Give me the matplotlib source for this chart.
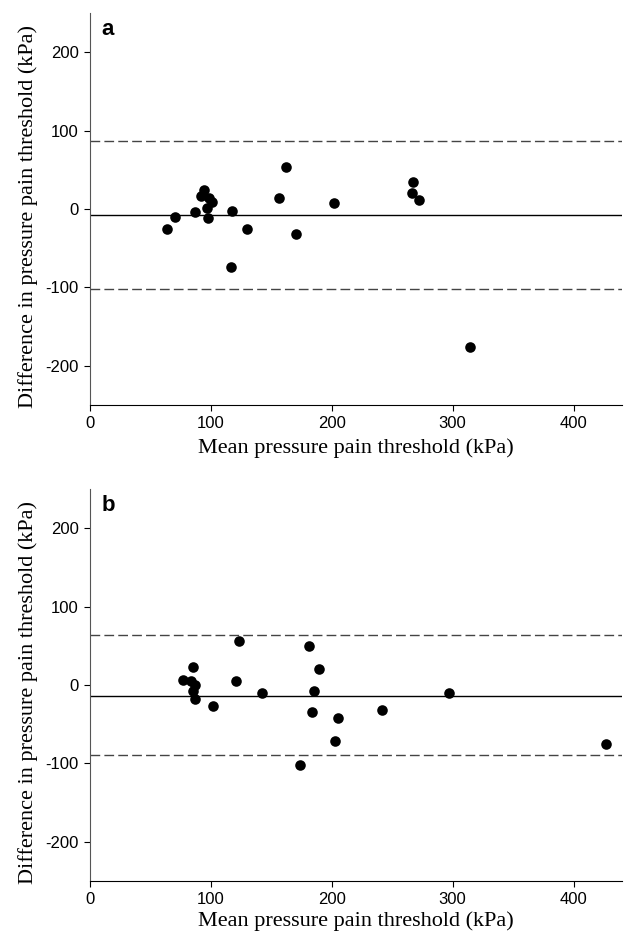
import numpy as np
import matplotlib
matplotlib.use('Agg')
from matplotlib import pyplot as plt

plt.rcParams['axes.unicode_minus'] = False

# panel a : mean vs difference
a_mean = [63.9, 70.0, 86.8, 91.7, 94.5, 98.6, 100.6, 96.4, 97.8, 117.6, 116.3,
          130.0, 156.2, 162.0, 170.8, 201.9, 267.2, 266.1, 271.9, 314.0]
a_diff = [-25.5, -9.8, -3.8, 16.1, 23.7, 13.5, 8.4, 1.3, -12.0, -2.2, -74.4,
          -25.5, 14.4, 53.5, -32.3, 7.2, 33.9, 20.4, 11.8, -176.3]
a_bias = -8.0
a_loa = [86.1, -102.2]

# panel b
b_mean = [77.1, 83.2, 85.4, 86.8, 85.4, 86.8, 101.4, 120.4, 123.1, 141.9,
          174.0, 181.0, 189.4, 185.1, 183.6, 205.0, 203.0, 241.6, 296.7, 427.0]
b_diff = [6.4, 5.5, 22.6, 0.0, -7.2, -18.3, -26.8, 5.5, 56.6, -10.2,
          -102.1, 49.8, 20.0, -7.7, -34.7, -42.1, -71.1, -31.5, -9.8, -75.0]
b_bias = -13.6
b_loa = [63.8, -89.8]

xticks = [0, 100, 200, 300, 400]
yticks = [-200, -100, 0, 100, 200]

serif = ['Liberation Serif', 'DejaVu Serif']
sans = ['Liberation Sans', 'DejaVu Sans']


def panel(ax, x, y, bias, loa, letter, xpad):
    ax.scatter(x, y, s=58, color='black', zorder=3, linewidths=0)
    ax.axhline(bias, color='black', lw=1.0)
    for v in loa:
        ax.axhline(v, color='#444444', lw=1.0, ls=(0, (7, 3)))
    ax.set_xlim(0, 440)
    ax.set_ylim(-250, 250)
    ax.set_xticks(xticks)
    ax.set_yticks(yticks)
    for s in ['top', 'right']:
        ax.spines[s].set_visible(False)
    ax.spines['left'].set_color('#555555')
    ax.spines['bottom'].set_color('black')
    ax.tick_params(direction='out', length=4, width=0.8, labelsize=12, colors='black', pad=4)
    for lab in ax.get_xticklabels() + ax.get_yticklabels():
        lab.set_family(sans)
    ax.set_xlabel('Mean pressure pain threshold (kPa)', family=serif, fontsize=16, labelpad=xpad)
    ax.set_ylabel('Difference in pressure pain threshold (kPa)', family=serif, fontsize=16)
    ax.yaxis.set_label_coords(-0.097, 0.48)
    ax.text(0.022, 0.985, letter, transform=ax.transAxes, family=sans,
            fontsize=16, fontweight='bold', va='top', ha='left')


fig = plt.figure(figsize=(6.25, 9.46), dpi=100)
ax1 = fig.add_axes([0.144, 0.5719, 0.851, 0.4144])
ax2 = fig.add_axes([0.144, 0.0687, 0.851, 0.4144])
panel(ax1, a_mean, a_diff, a_bias, a_loa, 'a', 5)
panel(ax2, b_mean, b_diff, b_bias, b_loa, 'b', 3)

fig.savefig('out.png', dpi=100)
